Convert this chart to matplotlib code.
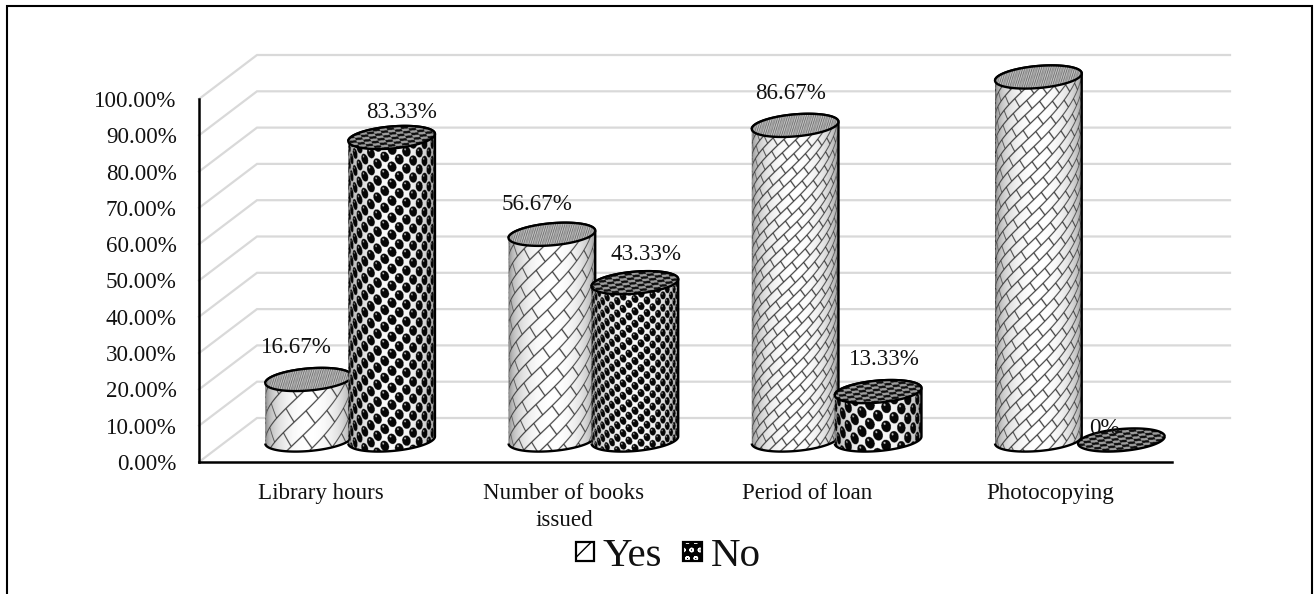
import numpy as np
import matplotlib
matplotlib.use("Agg")
import matplotlib.pyplot as plt
from matplotlib.legend_handler import HandlerBase
from matplotlib.patches import PathPatch, Patch, Rectangle
from matplotlib.path import Path
from matplotlib.ticker import FormatStrFormatter

categories = ["Library hours", "Number of books\nissued", "Period of loan", "Photocopying"]
yes_values = [16.67, 56.67, 86.67, 100]
no_values = [83.33, 43.33, 13.33, 0]
series_names = ["Yes", "No"]
y_ticks = [0, 10, 20, 30, 40, 50, 60, 70, 80, 90, 100]

W, H = 1314, 594
AX_LEFT, AX_RIGHT, AX_TOP, AX_BOTTOM = 199, 1172, 99, 462
PX_X = (AX_RIGHT - AX_LEFT) / 4.0    # pixels per category
PX_Y = (AX_BOTTOM - AX_TOP) / 100.0  # pixels per percent

# floor depth of the fake 3d box, in pixels
DEPTH_X, DEPTH_Y = 58, 44
A, B, TILT = 43.5, 11.0, np.radians(5)

plt.rcParams["font.family"] = ["Liberation Serif", "DejaVu Serif"]
plt.rcParams["hatch.linewidth"] = 1.0


def smooth(d, w=1.0):
    return np.clip(d / w, 0, 1)


def brick(u, v, size):
    ang = np.radians(38)
    p = u * np.cos(ang) + v * np.sin(ang)
    q = -u * np.sin(ang) + v * np.cos(ang)
    h, l = 11.0 * size, 23.0 * size
    row = np.floor(q / h)
    fq = q / h - row
    line = np.minimum(fq, 1 - fq) * h
    fp = (p / l + 0.5 * (row % 2)) % 1
    joint = np.minimum(fp, 1 - fp) * l
    return np.minimum(smooth(line), smooth(joint))


def balls(u, v, cw, ch):
    v = v + 0.22 * u
    # staggered lattice: find the closest ball centre for every sample
    s = np.round((u / cw + v / ch) / 2)
    t = np.round((u / cw - v / ch) / 2)
    px = u - (s + t) * cw
    py = v - (s - t) * ch
    radius = 0.6 * np.sqrt(cw * ch)
    img = np.ones_like(u) * 0.98
    img[np.hypot(px, py) < radius] = 0.03
    # small glint on each ball
    img[np.hypot(px + 0.2 * cw, py - 0.25 * ch) < 0.12 * cw] = 0.75
    return img


def cap_yes(x, y):
    noise = np.sin(1.7 * x + 2.3 * y) * np.sin(0.9 * x - 3.1 * y) + 0.6 * np.sin(3.3 * x - 1.1 * y)
    return np.clip(0.62 + 0.26 * noise, 0.1, 0.95)


def cap_no(x, y):
    i = np.floor((x + 0.5 * y) / 7.0)
    j = np.floor(y * 1.1 / 2.6)
    return np.where((i + j) % 2 == 0, 0.62, 0.06)


def ellipse_pt(t):
    x = A * np.cos(t) * np.cos(TILT) - B * np.sin(t) * np.sin(TILT)
    y = A * np.cos(t) * np.sin(TILT) + B * np.sin(t) * np.cos(TILT)
    return x / PX_X, y / PX_Y


def draw_cylinder(ax, cx, base, value, texture, cap, z):
    top = base + value
    t0 = np.arctan(-(B / A) * np.tan(TILT))
    low = np.linspace(t0 + np.pi, t0 + 2 * np.pi, 60)
    up = np.linspace(t0, t0 + np.pi, 60)
    lx, ly = ellipse_pt(low)
    ux, uy = ellipse_pt(up)
    xs = np.r_[cx + lx, cx + ux]
    ys = np.r_[base + ly, top + uy]
    body = Path(np.c_[xs, ys])

    xlim = (cx - 1.1 * A / PX_X, cx + 1.1 * A / PX_X)
    if value > 0:
        ylim = (base - 2 * B / PX_Y, top + 2 * B / PX_Y)
        nx = int((xlim[1] - xlim[0]) * PX_X * 3)
        ny = int((ylim[1] - ylim[0]) * PX_Y * 3)
        gx, gy = np.meshgrid(np.linspace(-1.1 * A, 1.1 * A, nx),
                             np.linspace(ylim[0] * PX_Y, ylim[1] * PX_Y, ny))
        theta = np.arcsin(np.clip(gx / A, -1, 1))
        u = theta * A * 1.15
        v = gy + B * np.cos(theta) - gx * np.tan(TILT)
        shade = 0.38 + 0.62 * np.cos(theta) ** 0.7
        im = ax.imshow(texture(u, v) * shade, extent=(*xlim, *ylim), origin="lower", aspect="auto",
                       cmap="gray", vmin=0, vmax=1, zorder=z)
        im.set_clip_path(PathPatch(body, transform=ax.transData))
        im.set_clip_box(fig.bbox)
        ax.add_patch(PathPatch(body, fc="none", ec="black", lw=1.7, zorder=z + 0.1, clip_on=False))

    full = np.linspace(0, 2 * np.pi, 120)
    ex, ey = ellipse_pt(full)
    rim = Path(np.c_[cx + ex, top + ey])
    ylim = (top - 1.6 * B / PX_Y, top + 1.6 * B / PX_Y)
    nx = int((xlim[1] - xlim[0]) * PX_X * 3)
    ny = int((ylim[1] - ylim[0]) * PX_Y * 3)
    gx, gy = np.meshgrid(np.linspace(-1.1 * A, 1.1 * A, nx), np.linspace(-1.6 * B, 1.6 * B, ny))
    im = ax.imshow(cap(gx + cx * PX_X, gy - gx * np.tan(TILT)), extent=(*xlim, *ylim), origin="lower",
                   aspect="auto", cmap="gray", vmin=0, vmax=1, zorder=z + 0.2)
    im.set_clip_path(PathPatch(rim, transform=ax.transData))
    im.set_clip_box(fig.bbox)
    ax.add_patch(PathPatch(rim, fc="none", ec="black", lw=1.7, zorder=z + 0.3, clip_on=False))


class SwatchHandler(HandlerBase):
    def create_artists(self, legend, orig, xd, yd, width, height, fontsize, trans):
        face = Rectangle((0, 3.3), width, width, fc=orig.get_facecolor(), ec=orig.get_edgecolor(),
                         hatch=orig.get_hatch(), lw=0, transform=trans)
        edge = Rectangle((0, 3.3), width, width, fc="none", ec="black", lw=1.6, transform=trans)
        return [face, edge]


fig = plt.figure(figsize=(W / 100, H / 100), dpi=100, facecolor="white")
ax = fig.add_axes([AX_LEFT / W, (H - AX_BOTTOM) / H, (AX_RIGHT - AX_LEFT) / W, (AX_BOTTOM - AX_TOP) / H])
ax.patch.set_visible(False)

# outer chart frame, its lower edge falls off the figure
fig.add_artist(Rectangle((7 / W, -0.02), (1312 - 7) / W, (H - 6) / H + 0.02, fc="none", ec="black",
                         lw=1.5, transform=fig.transFigure))

dx, dy = DEPTH_X / PX_X, DEPTH_Y / PX_Y
for t in y_ticks:
    ax.plot([-0.5, -0.5 + dx, 3.5 + dx], [t, t + dy, t + dy], color="#d9d9d9", lw=1.6, zorder=1,
            clip_on=False, solid_joinstyle="miter")

# bars sit halfway into the box
shift_x, shift_y = dx / 2, dy / 2
yes_size = [1.55, 1.2, 0.85, 0.95]
no_cell = [(8.5, 8.5), (7.0, 6.2), (9.5, 9.5), (8.5, 8.5)]
yes_off = [(-12, 32), (-15, 30), (-5, 32), (0, 31)]
no_off = [(10, 25), (11, 28), (6, 32), (-17, 12)]
for i in range(len(categories)):
    cx_yes = i + shift_x - 41 / PX_X
    cx_no = i + shift_x + 42 / PX_X
    size = yes_size[i]
    cell = no_cell[i]
    draw_cylinder(ax, cx_yes, shift_y, yes_values[i], lambda u, v, s=size: brick(u, v, s), cap_yes, 3 + i)
    draw_cylinder(ax, cx_no, shift_y, no_values[i], lambda u, v, c=cell: balls(u, v, *c), cap_no, 3.5 + i)
    ax.annotate(f"{yes_values[i]:g}%", (cx_yes, shift_y + yes_values[i]), xytext=(yes_off[i][0] * 0.72, yes_off[i][1] * 0.72),
                textcoords="offset points", ha="center", va="center", fontsize=16.6, color="#111111", zorder=20)
    ax.annotate(f"{no_values[i]:g}%", (cx_no, shift_y + no_values[i]), xytext=(no_off[i][0] * 0.72, no_off[i][1] * 0.72),
                textcoords="offset points", ha="center", va="center", fontsize=16.6, color="#111111", zorder=20)

ax.set_xlim(-0.5, 3.5)
ax.set_ylim(0, 100)
ax.set_xticks(range(len(categories)))
ax.set_xticklabels(categories, fontsize=16.6, color="#111111", linespacing=1.4)
ax.set_yticks(y_ticks)
ax.yaxis.set_major_formatter(FormatStrFormatter("%.2f%%"))
ax.tick_params(axis="y", length=0, pad=16, labelsize=16.6, labelcolor="#111111")
ax.tick_params(axis="x", length=0, pad=15)
for side in ["top", "right"]:
    ax.spines[side].set_visible(False)
for side in ["left", "bottom"]:
    ax.spines[side].set_linewidth(1.8)
    ax.spines[side].set_color("black")

handles = [Patch(facecolor="white", edgecolor="black", hatch="/", label=series_names[0]),
           Patch(facecolor="black", edgecolor="white", hatch="oo", label=series_names[1])]
fig.legend(handles=handles, loc="center", bbox_to_anchor=(668 / W, (H - 556) / H), ncol=2, frameon=False,
           fontsize=29.5, handlelength=0.46, handleheight=0.46, handletextpad=0.2, columnspacing=0.52,
           labelcolor="#111111", borderpad=0, handler_map={Patch: SwatchHandler()})

fig.savefig("out.png", dpi=100)
